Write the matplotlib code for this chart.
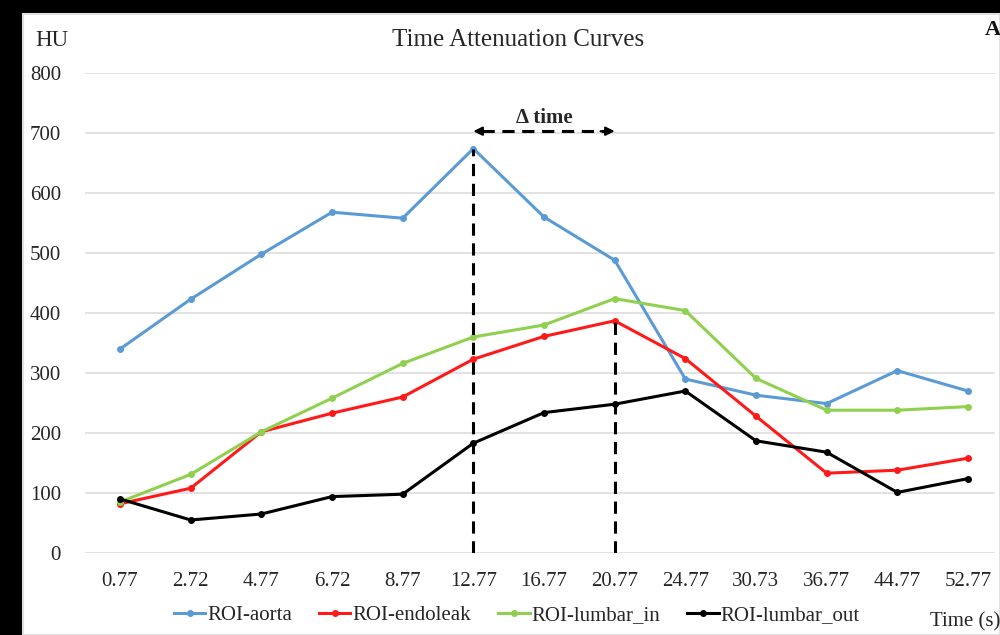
import matplotlib
matplotlib.use("Agg")
import matplotlib.pyplot as plt
from matplotlib.patches import Rectangle

# Sampling times (s) used as category labels
times = ["0.77", "2.72", "4.77", "6.72", "8.77", "12.77", "16.77",
         "20.77", "24.77", "30.73", "36.77", "44.77", "52.77"]

# Attenuation (HU) per region of interest
aorta = [340, 423, 498, 568, 558, 674, 560, 488, 290, 263, 249, 304, 270]
endoleak = [82, 108, 202, 233, 260, 323, 361, 387, 324, 228, 133, 138, 158]
lumbar_in = [85, 131, 202, 258, 316, 360, 380, 424, 404, 291, 238, 238, 244]
lumbar_out = [90, 55, 65, 94, 98, 183, 234, 248, 270, 187, 168, 101, 124]

series_names = ["ROI-aorta", "ROI-endoleak", "ROI-lumbar_in", "ROI-lumbar_out"]
series_colors = ["#5b9bd5", "#ff1a1a", "#8fd14f", "#000000"]
y_ticks = [0, 100, 200, 300, 400, 500, 600, 700, 800]

# Indices of the two time points bracketing the delta-time interval
start_idx = 5
end_idx = 7

SERIF = ["Liberation Serif", "DejaVu Serif"]
plt.rcParams["font.family"] = SERIF
TXT = "#262626"

W, H = 1000, 635
fig = plt.figure(figsize=(W / 100, H / 100), dpi=100, facecolor="black")

# White chart area inside the black frame
fig.patches.append(Rectangle((23 / W, 0), 1 - 23 / W, 1 - 14 / H,
                             transform=fig.transFigure, facecolor="white",
                             edgecolor="#e0e0e0", linewidth=1.5, zorder=-10))

ax = fig.add_axes([0.0847, 82 / H, 0.9186, 480 / H])
ax.set_facecolor("none")
x = list(range(len(times)))

for vals, name, col in zip([aorta, endoleak, lumbar_in, lumbar_out],
                           series_names, series_colors):
    ax.plot(x, vals, color=col, lw=2.2, marker="o", ms=4, label=name,
            zorder=3)

ax.set_xlim(-0.5, len(times) - 0.5)
ax.set_ylim(0, 800)
ax.set_yticks(y_ticks)
ax.set_xticks(x)
ax.set_xticklabels(times)
ax.tick_params(axis="both", length=0, labelsize=15, colors=TXT)
ax.tick_params(axis="y", pad=17)
ax.tick_params(axis="x", pad=14)
for lab in ax.get_xticklabels() + ax.get_yticklabels():
    lab.set_family(SERIF)
for s in ax.spines.values():
    s.set_visible(False)
for yv in y_ticks:
    ax.axhline(yv, xmin=0, xmax=0.99, color="#dddddd", lw=1.2, zorder=1)

# Delta-time markers
dash = (0, (4, 2.5))
ax.plot([start_idx, start_idx], [0, aorta[start_idx]], color="black", lw=2.2,
        linestyle=dash, zorder=4)
ax.plot([end_idx, end_idx], [0, endoleak[end_idx]], color="black", lw=2.2,
        linestyle=dash, zorder=4)
arrow_y = 703
ax.plot([start_idx + 0.12, end_idx - 0.12], [arrow_y, arrow_y], color="black",
        lw=2.2, linestyle=dash, zorder=4)
for tip, tail in [(start_idx, start_idx + 0.2), (end_idx, end_idx - 0.2)]:
    ax.annotate("", xy=(tip, arrow_y), xytext=(tail, arrow_y),
                arrowprops=dict(arrowstyle="-|>", color="black", lw=1.5,
                                mutation_scale=13, shrinkA=0, shrinkB=0))
ax.text((start_idx + end_idx) / 2, arrow_y + 5, "\u0394 time", ha="center",
        va="bottom", fontsize=15, fontweight="bold", color=TXT,
        family=SERIF)

fig.text(518 / W, 1 - 40 / H, "Time Attenuation Curves", ha="center",
         va="center", fontsize=18, color=TXT, family=SERIF)
fig.text(35 / W, 1 - 40 / H, "HU", ha="left", va="center", fontsize=16.5,
         color=TXT, family=SERIF)
fig.text(985 / W, 1 - 30 / H, "A", ha="left", va="center", fontsize=16,
         fontweight="bold", color="#111111", family=SERIF)
fig.text(930 / W, 1 - 622 / H, "Time (s)", ha="left", va="center",
         fontsize=15, color=TXT, family=SERIF)

fig.legend(*ax.get_legend_handles_labels(), loc="center",
           bbox_to_anchor=(517 / W, 1 - 615 / H), ncol=4, frameon=False,
           prop={"family": SERIF, "size": 15}, handlelength=1.5,
           handletextpad=0.1, columnspacing=1.3, labelcolor=TXT)

fig.savefig("out.png", dpi=100, facecolor="black")
